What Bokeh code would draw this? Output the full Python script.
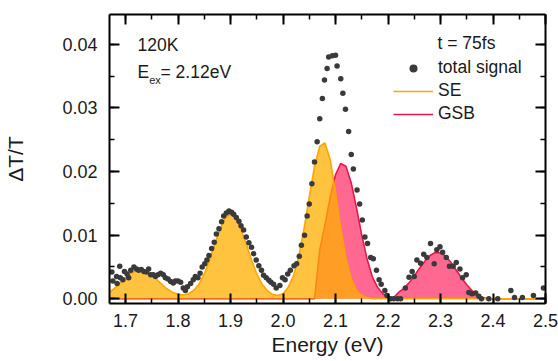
from bokeh.plotting import figure
from bokeh.models import (Label, Legend, LegendItem, LinearAxis, SingleIntervalTicker,
                          NumeralTickFormatter, CustomJSTickFormatter, Range1d,
                          ColumnDataSource)
from bokeh.embed import file_html
from bokeh.resources import INLINE

# ---------------- data ----------------
energy_grid = [1.67, 1.68, 1.69, 1.70, 1.71, 1.72, 1.73, 1.74, 1.75, 1.76,
               1.77, 1.78, 1.79, 1.80, 1.81, 1.82, 1.83, 1.84, 1.85, 1.86,
               1.87, 1.88, 1.89, 1.90, 1.91, 1.92, 1.93, 1.94, 1.95, 1.96,
               1.97, 1.98, 1.99, 2.00, 2.01, 2.02, 2.03, 2.04, 2.05, 2.06,
               2.07, 2.08, 2.09, 2.10, 2.11, 2.12, 2.13, 2.14, 2.15, 2.16,
               2.17, 2.18, 2.19, 2.20, 2.21, 2.22, 2.23, 2.24, 2.25, 2.26,
               2.27, 2.28, 2.29, 2.30, 2.31, 2.32, 2.33, 2.34, 2.35, 2.36,
               2.37, 2.38, 2.39, 2.40, 2.41, 2.42, 2.43, 2.44, 2.45, 2.46,
               2.47, 2.48, 2.49, 2.50]

se_fit = [0.0011, 0.0017, 0.0025, 0.0033, 0.0040, 0.0044, 0.0045, 0.0042, 0.0037, 0.0030,
          0.0022, 0.0015, 0.0010, 0.0007, 0.0006, 0.0008, 0.0013, 0.0023, 0.0039, 0.0061,
          0.0086, 0.0109, 0.0127, 0.0133, 0.0127, 0.0109, 0.0086, 0.0061, 0.0039, 0.0023,
          0.0013, 0.0007, 0.0005, 0.0008, 0.0018, 0.0036, 0.0066, 0.0110, 0.0160, 0.0208,
          0.0240, 0.0245, 0.0218, 0.0167, 0.0110, 0.0063, 0.0031, 0.0013, 0.0005, 0.0002,
          0.0, 0.0, 0.0, 0.0, 0.0, 0.0, 0.0, 0.0, 0.0, 0.0,
          0.0, 0.0, 0.0, 0.0, 0.0, 0.0, 0.0, 0.0, 0.0, 0.0,
          0.0, 0.0, 0.0, 0.0, 0.0, 0.0, 0.0, 0.0, 0.0, 0.0,
          0.0, 0.0, 0.0, 0.0]

gsb_fit = [0.0, 0.0, 0.0, 0.0, 0.0, 0.0, 0.0, 0.0, 0.0, 0.0,
           0.0, 0.0, 0.0, 0.0, 0.0, 0.0, 0.0, 0.0, 0.0, 0.0,
           0.0, 0.0, 0.0, 0.0, 0.0, 0.0, 0.0, 0.0, 0.0, 0.0,
           0.0, 0.0, 0.0, 0.0, 0.0, 0.0, 0.0, 0.0, 0.0, 0.0,
           0.0077, 0.0117, 0.0160, 0.0195, 0.0213, 0.0208, 0.0182, 0.0143, 0.0100, 0.0063,
           0.0035, 0.0018, 0.0008, 0.0003, 0.0001, 0.0010, 0.0016, 0.0025, 0.0036, 0.0048,
           0.0059, 0.0068, 0.0073, 0.0072, 0.0067, 0.0057, 0.0045, 0.0033, 0.0022, 0.0013,
           0.0006, 0.0002, 0.0, 0.0, 0.0, 0.0, 0.0, 0.0, 0.0, 0.0,
           0.0, 0.0, 0.0, 0.0]

signal_energy = [1.674, 1.676, 1.683, 1.684, 1.689, 1.690, 1.695, 1.698, 1.703, 1.706,
                 1.710, 1.716, 1.721, 1.725, 1.730, 1.735, 1.740, 1.744, 1.748, 1.753,
                 1.757, 1.762, 1.767, 1.772, 1.776, 1.781, 1.786, 1.791, 1.795, 1.800,
                 1.805, 1.810, 1.814, 1.818, 1.824, 1.829, 1.833, 1.838, 1.842, 1.846,
                 1.851, 1.855, 1.859, 1.864, 1.869, 1.873, 1.878, 1.883, 1.887, 1.892,
                 1.897, 1.902, 1.906, 1.911, 1.916, 1.920, 1.925, 1.930, 1.935, 1.940,
                 1.944, 1.949, 1.954, 1.959, 1.963, 1.968, 1.973, 1.977, 1.982, 1.987,
                 1.994, 1.999, 2.004, 2.009, 2.014, 2.021, 2.026, 2.031, 2.035, 2.041,
                 2.046, 2.050, 2.055, 2.060, 2.065, 2.070, 2.075, 2.079, 2.084, 2.087,
                 2.094, 2.100, 2.103, 2.110, 2.114, 2.119, 2.125, 2.130, 2.134, 2.141,
                 2.146, 2.151, 2.156, 2.161, 2.167, 2.172, 2.178, 2.183, 2.187, 2.194,
                 2.198, 2.205, 2.211, 2.218, 2.224, 2.233, 2.240, 2.246, 2.250, 2.255,
                 2.262, 2.268, 2.274, 2.281, 2.288, 2.293, 2.299, 2.304, 2.311, 2.317,
                 2.324, 2.330, 2.337, 2.342, 2.349, 2.354, 2.360, 2.367, 2.373, 2.378,
                 2.392, 2.409, 2.434, 2.441, 2.456, 2.477, 2.496]

signal_value = [0.0042, 0.0028, 0.0035, 0.0024, 0.0051, 0.0033, 0.0030, 0.0043, 0.0039, 0.0033,
                0.0045, 0.0050, 0.0047, 0.0045, 0.0046, 0.0043, 0.0042, 0.0047, 0.0038, 0.0038,
                0.0035, 0.0038, 0.0040, 0.0038, 0.0033, 0.0031, 0.0027, 0.0025, 0.0028, 0.0028,
                0.0026, 0.0017, 0.0013, 0.0019, 0.0024, 0.0030, 0.0035, 0.0033, 0.0040, 0.0050,
                0.0055, 0.0061, 0.0068, 0.0079, 0.0089, 0.0102, 0.0110, 0.0121, 0.0130, 0.0135,
                0.0138, 0.0136, 0.0133, 0.0128, 0.0122, 0.0115, 0.0108, 0.0097, 0.0088, 0.0081,
                0.0071, 0.0061, 0.0052, 0.0045, 0.0037, 0.0033, 0.0029, 0.0026, 0.0023, 0.0017,
                0.0021, 0.0033, 0.0030, 0.0039, 0.0045, 0.0052, 0.0055, 0.0067, 0.0084, 0.0100,
                0.0130, 0.0149, 0.0181, 0.0215, 0.0247, 0.0283, 0.0315, 0.0344, 0.0362, 0.0380,
                0.0382, 0.0383, 0.0366, 0.0346, 0.0323, 0.0298, 0.0263, 0.0227, 0.0204, 0.0171,
                0.0149, 0.0124, 0.0097, 0.0087, 0.0065, 0.0063, 0.0045, 0.0030, 0.0023, 0.0013,
                0.0005, 0.0000, 0.0000, 0.0000, 0.0000, 0.0017, 0.0034, 0.0043, 0.0035, 0.0061,
                0.0056, 0.0070, 0.0065, 0.0087, 0.0055, 0.0077, 0.0082, 0.0073, 0.0065, 0.0051,
                0.0051, 0.0057, 0.0047, 0.0033, 0.0038, 0.0010, 0.0008, 0.0009, 0.0004, 0.0000,
                0.0000, 0.0000, 0.0013, 0.0002, 0.0002, 0.0005, 0.0017]

# ---------------- styling ----------------
FONT = "Liberation Sans"
SE_LINE = "#FFA500"
SE_FILL = "#FFAF00"
GSB_LINE = "#E8174A"
GSB_FILL = "#FF6991"
DOT = "#3a3a3a"
TXT = "#1a1a1a"
TEXT_SIZE = "17.5px"

p = figure(width=558, height=361, output_backend="svg", toolbar_location=None,
           x_range=Range1d(1.6695, 2.5), y_range=Range1d(-0.00074, 0.0447),
           min_border_left=109, min_border_right=13, min_border_top=14, min_border_bottom=58)
p.xgrid.visible = False
p.ygrid.visible = False
p.outline_line_color = None
p.background_fill_color = "white"

fit_src = ColumnDataSource(dict(e=energy_grid, se=se_fit, gsb=gsb_fit))

p.varea(x="e", y1=0, y2="gsb", source=fit_src, fill_color=GSB_FILL, fill_alpha=1.0)
gsb_line = p.line(x="e", y="gsb", source=fit_src, line_color=GSB_LINE, line_width=1.6)
p.varea(x="e", y1=0, y2="se", source=fit_src, fill_color=SE_FILL, fill_alpha=0.75)
se_line = p.line(x="e", y="se", source=fit_src, line_color=SE_LINE, line_width=1.6)
dots = p.scatter(x=signal_energy, y=signal_value, size=5.5, color=DOT, line_color=None)

x_ticker = SingleIntervalTicker(interval=0.1, num_minor_ticks=2)
y_ticker = SingleIntervalTicker(interval=0.01, num_minor_ticks=2)


def style_axis(ax, ticker, fmt, show_labels):
    ax.ticker = ticker
    ax.axis_line_width = 2
    ax.axis_line_color = "black"
    ax.major_tick_in = 10
    ax.major_tick_out = 0
    ax.minor_tick_in = 5
    ax.minor_tick_out = 0
    ax.major_tick_line_width = 2
    ax.minor_tick_line_width = 1.5
    ax.major_tick_line_color = "black"
    ax.minor_tick_line_color = "black"
    ax.major_label_text_font = FONT
    ax.major_label_text_color = TXT
    if show_labels:
        ax.formatter = NumeralTickFormatter(format=fmt)
        ax.major_label_text_font_size = "18px"
    else:
        ax.formatter = CustomJSTickFormatter(code="return ''")
        ax.major_label_text_font_size = "1px"
        ax.major_label_standoff = 0


style_axis(p.xaxis[0], x_ticker, "0.0", True)
style_axis(p.yaxis[0], y_ticker, "0.00", True)
p.xaxis[0].major_label_standoff = 10
p.yaxis[0].major_label_standoff = 12

p.xaxis[0].axis_label = "Energy (eV)"
p.xaxis[0].axis_label_text_font = FONT
p.xaxis[0].axis_label_text_font_size = "21px"
p.xaxis[0].axis_label_text_font_style = "normal"
p.xaxis[0].axis_label_text_color = TXT
p.xaxis[0].axis_label_standoff = 3

p.yaxis[0].axis_label = "\u0394T/T"
p.yaxis[0].axis_label_text_font = FONT
p.yaxis[0].axis_label_text_font_size = "21px"
p.yaxis[0].axis_label_text_font_style = "normal"
p.yaxis[0].axis_label_text_color = TXT
p.yaxis[0].axis_label_standoff = 32

top_axis = LinearAxis()
style_axis(top_axis, x_ticker, "0.0", False)
p.add_layout(top_axis, "above")
right_axis = LinearAxis()
style_axis(right_axis, y_ticker, "0.00", False)
p.add_layout(right_axis, "right")


def txt(x, y, s, size=TEXT_SIZE):
    p.add_layout(Label(x=x, y=y, text=s, text_align="left", text_baseline="middle",
                       text_font=FONT, text_font_size=size, text_color=TXT))


txt(1.7229, 0.03985, "120K")
txt(1.7229, 0.0356, "E")
txt(1.7450, 0.03434, "ex", "11px")
txt(1.7667, 0.0356, "= 2.12eV")
txt(2.2943, 0.04016, "t = 75fs")

legend = Legend(items=[LegendItem(label="total signal", renderers=[dots]),
                       LegendItem(label="SE", renderers=[se_line]),
                       LegendItem(label="GSB", renderers=[gsb_line])],
                location=(284, 179), glyph_width=40, glyph_height=20, label_height=20,
                spacing=2, padding=0, margin=0, border_line_color=None,
                background_fill_alpha=0, label_standoff=5,
                label_text_font=FONT, label_text_font_size=TEXT_SIZE,
                label_text_color=TXT)
p.add_layout(legend)

open("out.html", "w").write(file_html(p, INLINE))
